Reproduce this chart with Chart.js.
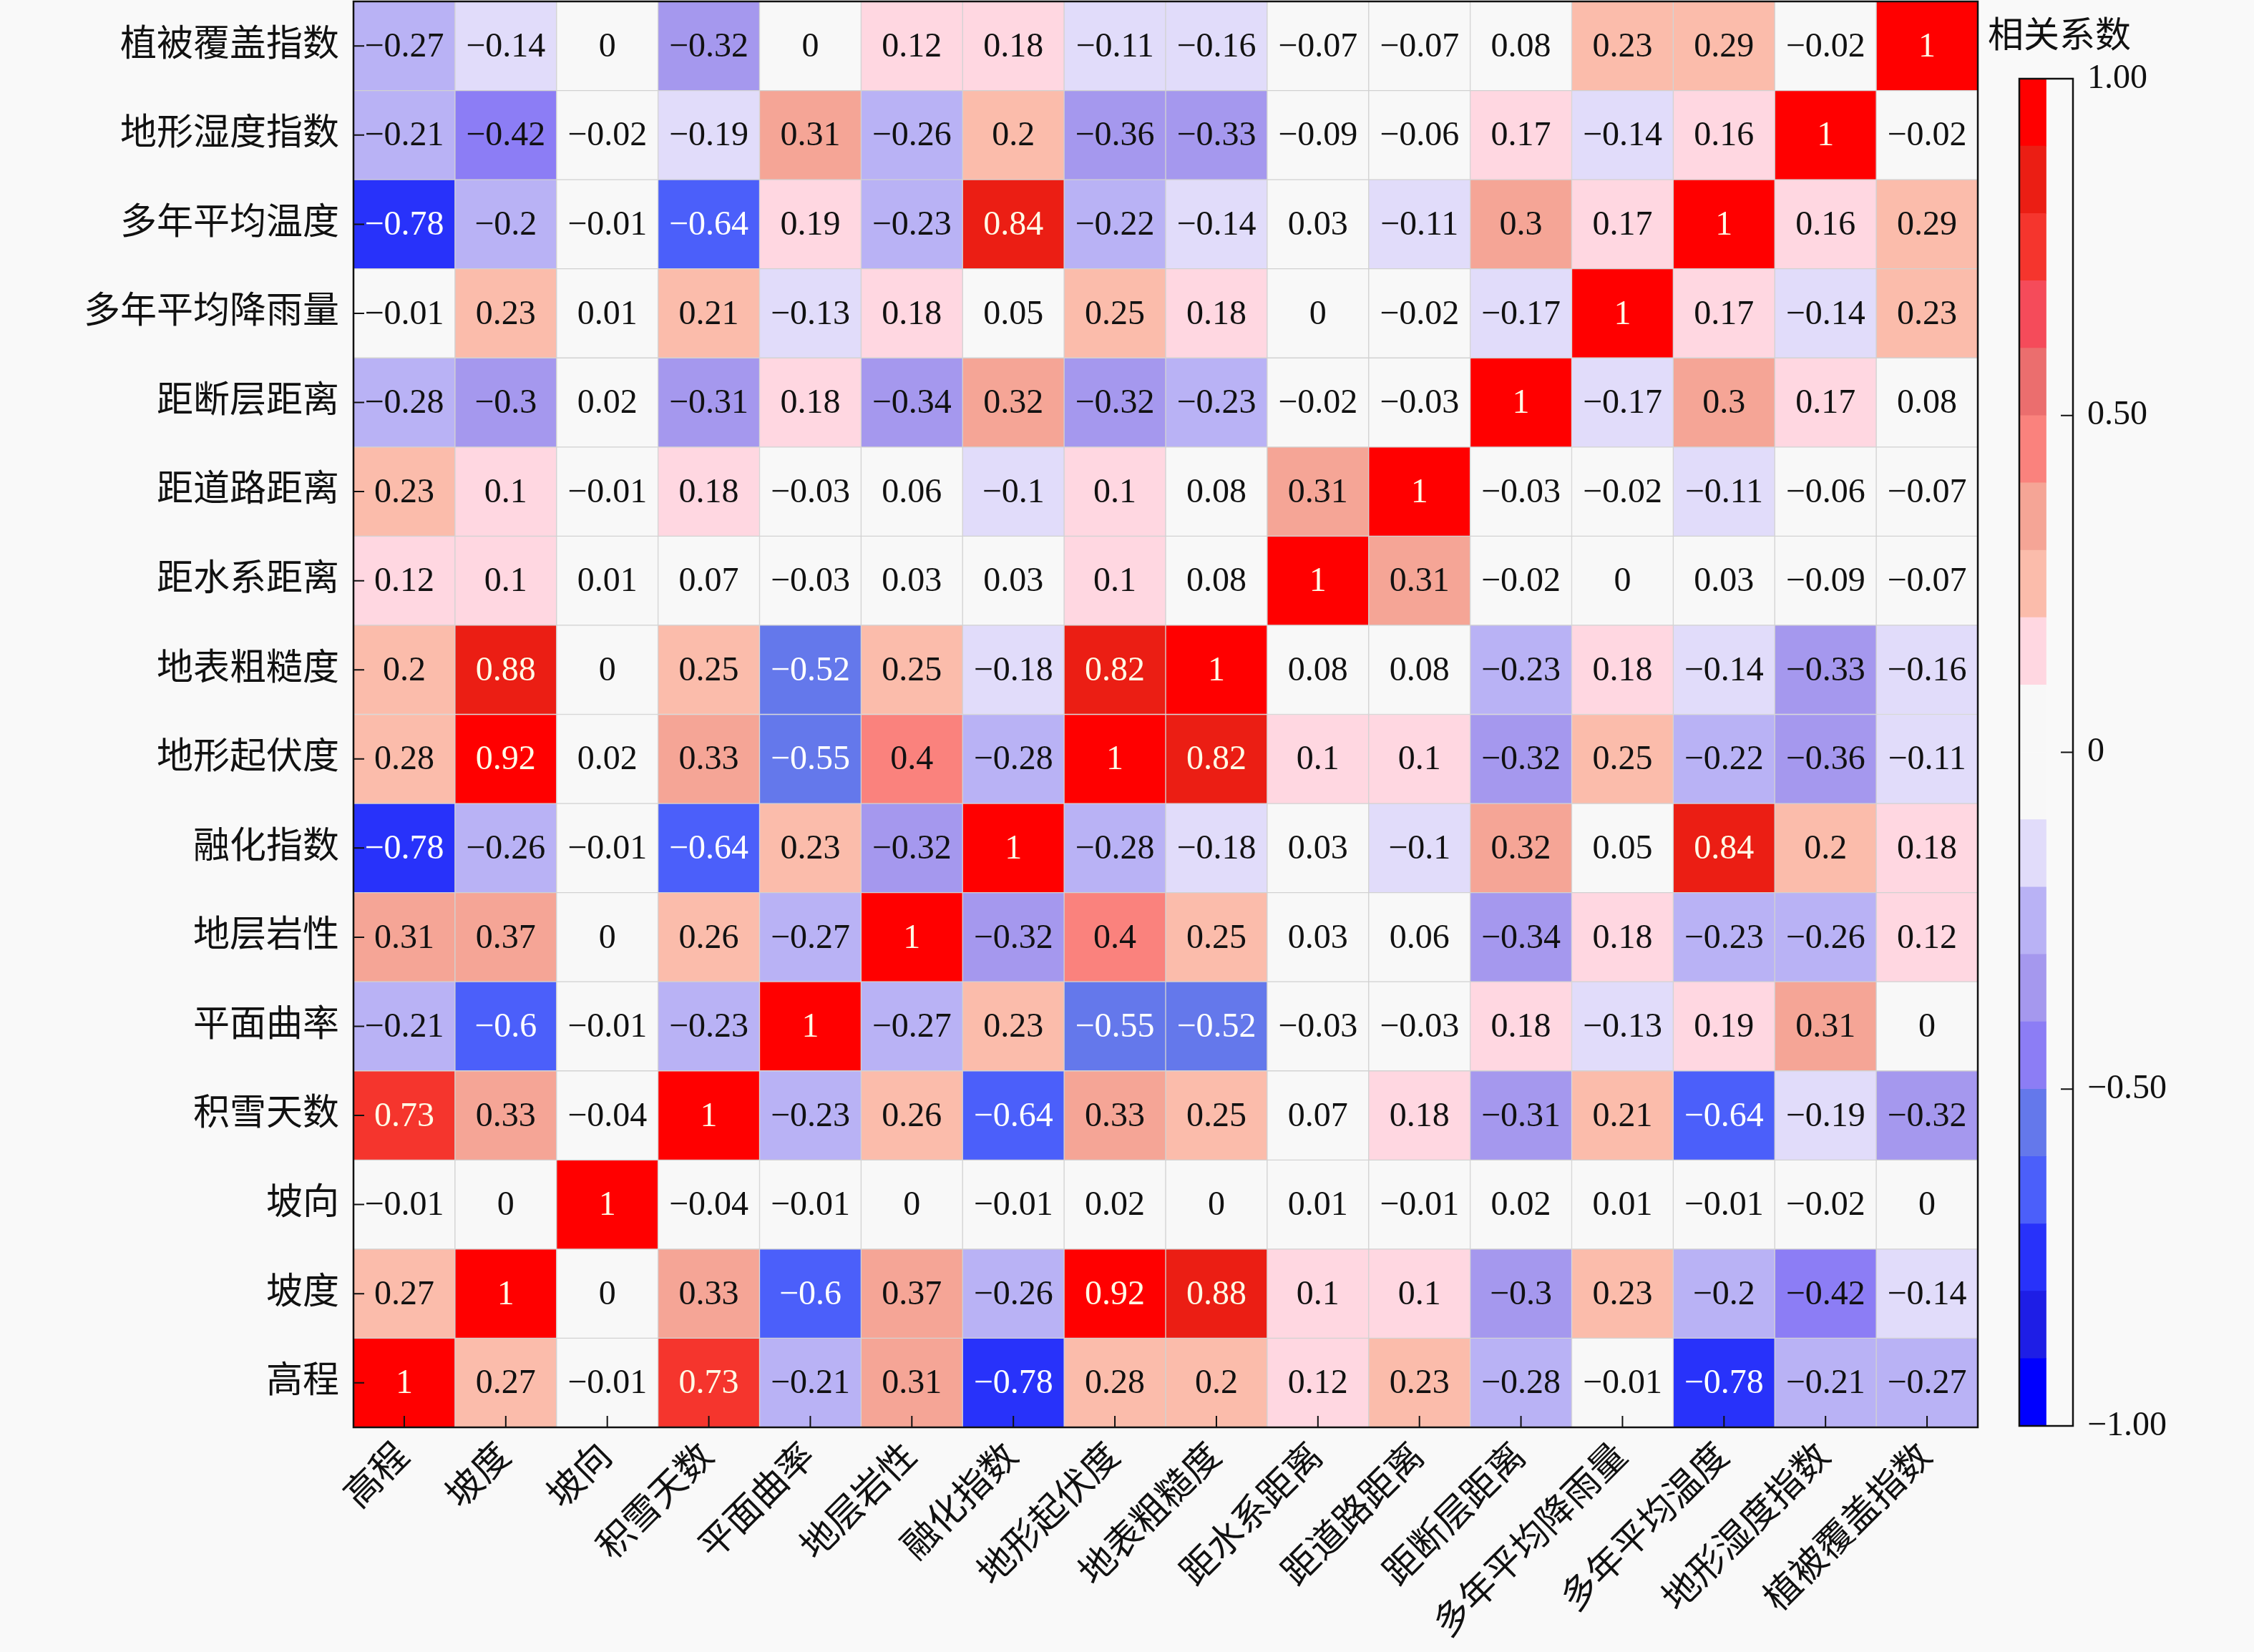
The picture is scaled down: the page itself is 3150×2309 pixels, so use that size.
<!DOCTYPE html>
<html>
<head>
<meta charset="utf-8">
<script src="https://cdn.jsdelivr.net/npm/chart.js@4.4.1/dist/chart.umd.min.js"></script>
<style>
  html, body { margin: 0; padding: 0; background: #f9f9f9; width: 3150px; height: 2309px; overflow: hidden; }
  #main { position: absolute; left: 0; top: -50px; }
  #bar { position: absolute; left: 2776px; top: 0; }
  #cbtitle { position: absolute; left: 2778px; top: 24px; font: 50px 'Liberation Serif', 'Noto Sans CJK SC', serif; line-height: 1; color: #111; }
</style>
</head>
<body>
<canvas id="main" width="2780" height="2359"></canvas>
<canvas id="bar" width="374" height="2309"></canvas>
<div id="cbtitle">相关系数</div>
<script>
// variables, same order on both axes (rows from bottom, columns from left)
const vars = ['高程', '坡度', '坡向', '积雪天数', '平面曲率', '地层岩性', '融化指数', '地形起伏度',
  '地表粗糙度', '距水系距离', '距道路距离', '距断层距离', '多年平均降雨量', '多年平均温度', '地形湿度指数', '植被覆盖指数'];

// correlation rows, one per variable
const elevation  = [1, 0.27, -0.01, 0.73, -0.21, 0.31, -0.78, 0.28, 0.2, 0.12, 0.23, -0.28, -0.01, -0.78, -0.21, -0.27];
const slope      = [0.27, 1, 0, 0.33, -0.6, 0.37, -0.26, 0.92, 0.88, 0.1, 0.1, -0.3, 0.23, -0.2, -0.42, -0.14];
const aspect     = [-0.01, 0, 1, -0.04, -0.01, 0, -0.01, 0.02, 0, 0.01, -0.01, 0.02, 0.01, -0.01, -0.02, 0];
const snowDays   = [0.73, 0.33, -0.04, 1, -0.23, 0.26, -0.64, 0.33, 0.25, 0.07, 0.18, -0.31, 0.21, -0.64, -0.19, -0.32];
const planCurv   = [-0.21, -0.6, -0.01, -0.23, 1, -0.27, 0.23, -0.55, -0.52, -0.03, -0.03, 0.18, -0.13, 0.19, 0.31, 0];
const lithology  = [0.31, 0.37, 0, 0.26, -0.27, 1, -0.32, 0.4, 0.25, 0.03, 0.06, -0.34, 0.18, -0.23, -0.26, 0.12];
const thawIndex  = [-0.78, -0.26, -0.01, -0.64, 0.23, -0.32, 1, -0.28, -0.18, 0.03, -0.1, 0.32, 0.05, 0.84, 0.2, 0.18];
const relief     = [0.28, 0.92, 0.02, 0.33, -0.55, 0.4, -0.28, 1, 0.82, 0.1, 0.1, -0.32, 0.25, -0.22, -0.36, -0.11];
const roughness  = [0.2, 0.88, 0, 0.25, -0.52, 0.25, -0.18, 0.82, 1, 0.08, 0.08, -0.23, 0.18, -0.14, -0.33, -0.16];
const distWater  = [0.12, 0.1, 0.01, 0.07, -0.03, 0.03, 0.03, 0.1, 0.08, 1, 0.31, -0.02, 0, 0.03, -0.09, -0.07];
const distRoad   = [0.23, 0.1, -0.01, 0.18, -0.03, 0.06, -0.1, 0.1, 0.08, 0.31, 1, -0.03, -0.02, -0.11, -0.06, -0.07];
const distFault  = [-0.28, -0.3, 0.02, -0.31, 0.18, -0.34, 0.32, -0.32, -0.23, -0.02, -0.03, 1, -0.17, 0.3, 0.17, 0.08];
const rainfall   = [-0.01, 0.23, 0.01, 0.21, -0.13, 0.18, 0.05, 0.25, 0.18, 0, -0.02, -0.17, 1, 0.17, -0.14, 0.23];
const meanTemp   = [-0.78, -0.2, -0.01, -0.64, 0.19, -0.23, 0.84, -0.22, -0.14, 0.03, -0.11, 0.3, 0.17, 1, 0.16, 0.29];
const twi        = [-0.21, -0.42, -0.02, -0.19, 0.31, -0.26, 0.2, -0.36, -0.33, -0.09, -0.06, 0.17, -0.14, 0.16, 1, -0.02];
const ndvi       = [-0.27, -0.14, 0, -0.32, 0, 0.12, 0.18, -0.11, -0.16, -0.07, -0.07, 0.08, 0.23, 0.29, -0.02, 1];

const corr = [elevation, slope, aspect, snowDays, planCurv, lithology, thawIndex, relief,
  roughness, distWater, distRoad, distFault, rainfall, meanTemp, twi, ndvi];

// colour bins, 0.1 wide, counted outward from zero
const posColors = ['#f8f8f8', '#ffd7e1', '#fbbcab', '#f5a596', '#fa827d', '#eb6e6e', '#f54b5a', '#f5352d', '#eb1e14', '#ff0000'];
const negColors = ['#f8f8f8', '#e1dcfa', '#b9b2f5', '#a598ee', '#8c7df5', '#6478eb', '#4b5ffa', '#2832fa', '#1e1ee6', '#0000ff'];

// colorbar
const cbEdges = [-1, -0.9, -0.8, -0.7, -0.6, -0.5, -0.4, -0.3, -0.2, -0.1, 0, 0.1, 0.2, 0.3, 0.4, 0.5, 0.6, 0.7, 0.8, 0.9, 1];
const cbTicks = [-1, -0.5, 0, 0.5, 1];

const fontFam = "'Liberation Serif', 'Noto Sans CJK SC', serif";

function colorFor(v) {
  const k = Math.min(9, Math.floor(Math.abs(v) * 10 + 1e-9));
  return v < 0 ? negColors[k] : posColors[k];
}
function fmt(v) {
  return (v < 0 ? '\u2212' : '') + String(Math.abs(v));
}

const cellLabels = {
  id: 'cellLabels',
  afterDatasetsDraw(chart) {
    const ctx = chart.ctx;
    ctx.save();
    ctx.font = '48px ' + fontFam;
    ctx.textAlign = 'center';
    ctx.textBaseline = 'middle';
    chart.data.datasets.forEach((ds, r) => {
      chart.getDatasetMeta(r).data.forEach((el, c) => {
        const v = corr[r][c];
        const p = el.getCenterPoint();
        ctx.fillStyle = Math.abs(v) > 0.5 ? (v > 0 ? '#fffbe6' : '#ffffff') : '#111111';
        ctx.fillText(fmt(v), p.x, p.y + 2);
      });
    });
    ctx.restore();
  },
  afterDraw(chart) {
    const { ctx, chartArea: a, scales } = chart;
    ctx.save();
    ctx.strokeStyle = '#111';
    ctx.lineWidth = 2.5;
    ctx.strokeRect(a.left, a.top, a.right - a.left, a.bottom - a.top);
    ctx.lineWidth = 2;
    ctx.beginPath();
    vars.forEach((_, i) => {
      const y = scales.y.getPixelForValue(i);
      ctx.moveTo(a.left, y); ctx.lineTo(a.left + 15, y);
      const x = scales.x.getPixelForValue(i);
      ctx.moveTo(x, a.bottom); ctx.lineTo(x, a.bottom - 16);
    });
    ctx.stroke();
    ctx.restore();
  }
};

new Chart(document.getElementById('main'), {
  type: 'bar',
  data: {
    labels: vars,
    datasets: corr.map((row, r) => ({
      label: vars[r],
      data: row.map(() => [r - 0.5, r + 0.5]),
      backgroundColor: row.map(colorFor),
      borderColor: '#d2d2d2',
      borderWidth: 1,
      borderSkipped: false,
      barPercentage: 1,
      categoryPercentage: 1
    }))
  },
  options: {
    responsive: false,
    animation: false,
    devicePixelRatio: 1,
    layout: { padding: { left: 0, right: 16, top: 52, bottom: 0 } },
    plugins: { legend: { display: false }, tooltip: { enabled: false } },
    scales: {
      x: {
        type: 'category',
        stacked: true,
        grid: { display: false, drawTicks: false },
        border: { display: false },
        ticks: { autoSkip: false, minRotation: 45, maxRotation: 45, padding: 12, color: '#111', font: { size: 51, family: fontFam } },
        afterFit(s) { s.height = 314; }
      },
      y: {
        type: 'linear',
        min: -0.5,
        max: 15.5,
        grid: { display: false, drawTicks: false },
        border: { display: false },
        afterBuildTicks(s) { s.ticks = vars.map((_, i) => ({ value: i })); },
        ticks: { padding: 20, color: '#111', font: { size: 51, family: fontFam }, callback: v => vars[v] },
        afterFit(s) { s.width = 494; }
      }
    }
  },
  plugins: [cellLabels]
});

const cbFrame = {
  id: 'cbFrame',
  afterDraw(chart) {
    const { ctx, chartArea: a, scales } = chart;
    ctx.save();
    ctx.strokeStyle = '#111';
    ctx.lineWidth = 2.5;
    ctx.strokeRect(a.left, a.top, a.right - a.left, a.bottom - a.top);
    ctx.lineWidth = 2;
    ctx.beginPath();
    cbTicks.forEach(t => {
      const y = scales.y.getPixelForValue(t);
      ctx.moveTo(a.right, y); ctx.lineTo(a.right - 17, y);
    });
    ctx.stroke();
    ctx.restore();
  }
};

new Chart(document.getElementById('bar'), {
  type: 'bar',
  data: {
    labels: [''],
    datasets: cbEdges.slice(0, -1).map((lo, k) => ({
      data: [[lo, cbEdges[k + 1]]],
      backgroundColor: k < 10 ? negColors[9 - k] : posColors[k - 10],
      borderWidth: 0,
      barPercentage: 1,
      categoryPercentage: 1
    }))
  },
  options: {
    responsive: false,
    animation: false,
    devicePixelRatio: 1,
    layout: { padding: { left: 46, right: 0, top: 110, bottom: 316 } },
    plugins: { legend: { display: false }, tooltip: { enabled: false } },
    scales: {
      x: { display: false, stacked: true, offset: false },
      y: {
        type: 'linear',
        position: 'right',
        min: -1,
        max: 1,
        grid: { display: false, drawTicks: false },
        border: { display: false },
        afterBuildTicks(s) { s.ticks = cbTicks.map(v => ({ value: v })); },
        ticks: {
          padding: 20, color: '#111', font: { size: 48, family: fontFam },
          callback: v => v === 0 ? '0' : (v < 0 ? '\u2212' : '') + Math.abs(v).toFixed(2)
        },
        afterFit(s) { s.width = 253; }
      }
    }
  },
  plugins: [cbFrame]
});
</script>
</body>
</html>
